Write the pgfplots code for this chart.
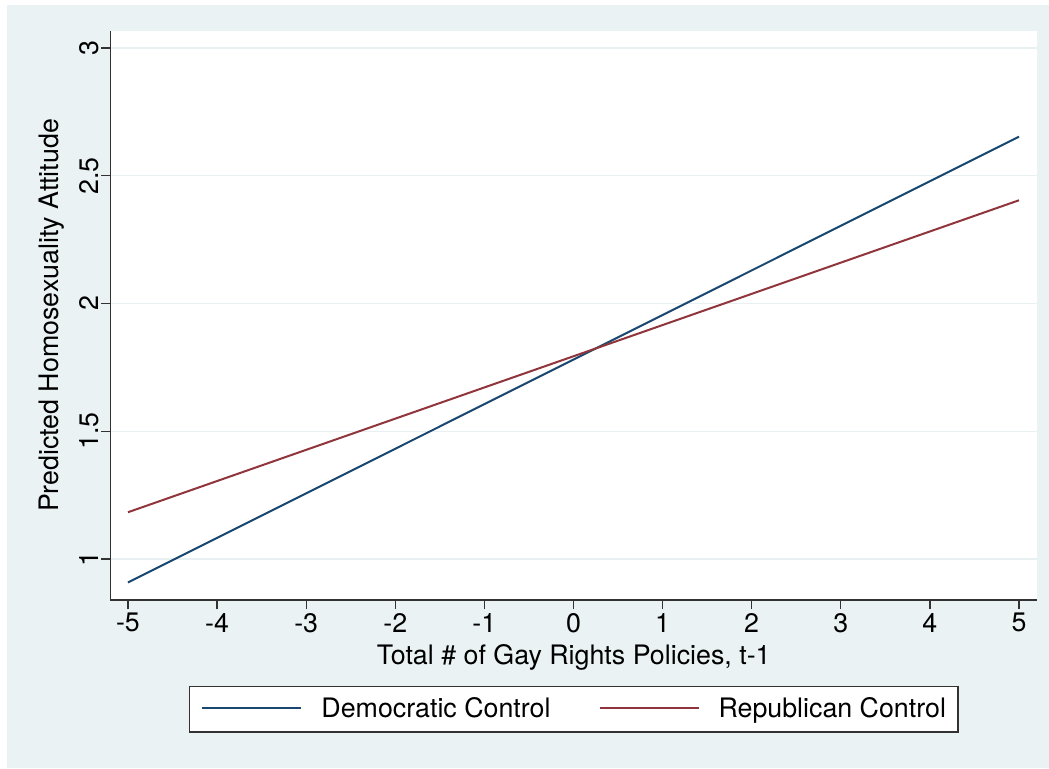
\documentclass[border=0pt]{standalone}
\usepackage{pgfplots}
\pgfplotsset{compat=1.18}
\usepackage{fontspec}
\setmainfont{TeX Gyre Heros}
\definecolor{bgc}{RGB}{234,242,243}
\definecolor{gridc}{RGB}{232,240,242}
\definecolor{dem}{RGB}{26,71,111}
\definecolor{rep}{RGB}{144,53,59}
\definecolor{axc}{RGB}{50,50,50}
\begin{document}
\fontsize{20.1}{24}\selectfont
\begin{tikzpicture}
\fill[white] (0pt,0pt) rectangle (786.75pt,576pt);
\fill[bgc] (5.25pt,0pt) rectangle (786.75pt,572.25pt);
\path[use as bounding box] (0pt,0pt) rectangle (786.75pt,576pt);
\begin{axis}[
  at={(82.875pt,126pt)}, anchor=south west,
  scale only axis, width=694.875pt, height=426.75pt,
  xmin=-5.196, xmax=5.202, ymin=0.8395, ymax=3.0665,
  axis background/.style={fill=white},
  axis x line=bottom, axis y line=left,
  axis line style={-, axc, line width=1pt},
  tick align=outside, major tick length=6.75pt,
  tick style={axc, line width=0.9pt},
  xtick={-5,-4,...,5}, ytick={1,1.5,2,2.5,3},
  yticklabels={1,1.5,2,2.5,3},
  xticklabels={-5,-4,-3,-2,-1,0,1,2,3,4,5},
  ymajorgrids, grid style={gridc, line width=1pt},
  yticklabel style={rotate=90, anchor=south, inner sep=2pt},
  xticklabel style={anchor=north, inner sep=2pt, yshift=-1pt},
  xlabel={Total \# of Gay Rights Policies, t-1},
  ylabel={Predicted Homosexuality Attitude},
  xlabel style={at={(axis description cs:0.5,-0.1002)}, anchor=center},
  ylabel style={at={(axis description cs:-0.0631,0.5)}, anchor=center, rotate=0},
  legend columns=2,
  legend style={at={(axis description cs:0.5,-0.1511)}, anchor=north,
    draw=axc, line width=1pt, fill=white,
    inner xsep=9pt, inner ysep=8pt,
    nodes={inner sep=0pt, anchor=base},
    /tikz/every odd column/.append style={column sep=14.25pt},
    /tikz/every even column/.append style={column sep=36pt}},
  legend image code/.code={\draw[#1, line width=1.5pt] (0pt,0.36em) -- (74.25pt,0.36em);},
  clip=false,
]
\addplot[dem, line width=1.5pt] coordinates {(-5,0.908) (5,2.653)};
\addlegendentry{Democratic Control}
\addplot[rep, line width=1.5pt] coordinates {(-5,1.183) (5,2.404)};
\addlegendentry{Republican Control}
\end{axis}
\end{tikzpicture}
\end{document}
